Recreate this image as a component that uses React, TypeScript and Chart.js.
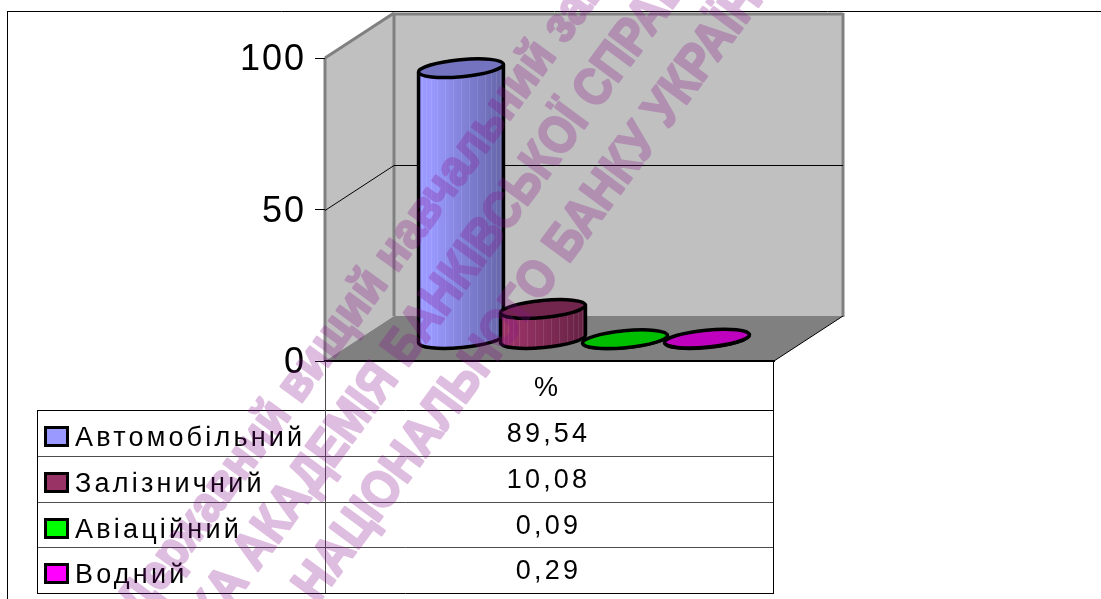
import React, { useEffect, useRef } from "react";
import { Chart, registerables } from "chart.js";

Chart.register(...registerables);

const columnLabel = "%";
const transportModes = ["Автомобільний", "Залізничний", "Авіаційний", "Водний"];
const shares = [89.54, 10.08, 0.09, 0.29];
const modeColors = ["#9999ff", "#993366", "#00ff00", "#ff00ff"];
const valueTicks = [0, 50, 100];
const stampLines = [
  "Державний вищий навчальний заклад",
  "УКРАЇНСЬКА АКАДЕМІЯ БАНКІВСЬКОЇ СПРАВИ",
  "НАЦІОНАЛЬНОГО БАНКУ УКРАЇНИ",
];

const FONT = '"Liberation Sans", Arial, sans-serif';
const DEPTH_X = 69;
const DEPTH_Y = -45;
const WALL = "#c0c0c0";
const FLOOR = "#808080";
const TILT = (-5.4 * Math.PI) / 180;
const CAP_RY = 8.5;

const shade = (hex: string, k: number) => {
  const n = parseInt(hex.slice(1), 16);
  const c = [(n >> 16) & 255, (n >> 8) & 255, n & 255].map((v) => Math.round(v * k));
  return `rgb(${c[0]},${c[1]},${c[2]})`;
};

const polygon = (ctx: CanvasRenderingContext2D, pts: number[][]) => {
  ctx.beginPath();
  pts.forEach(([x, y], i) => (i ? ctx.lineTo(x, y) : ctx.moveTo(x, y)));
  ctx.closePath();
};

const segment = (ctx: CanvasRenderingContext2D, x0: number, y0: number, x1: number, y1: number, color: string, w: number) => {
  ctx.strokeStyle = color;
  ctx.lineWidth = w;
  ctx.beginPath();
  ctx.moveTo(x0, y0);
  ctx.lineTo(x1, y1);
  ctx.stroke();
};

// The box behind the columns: side wall, back wall, floor and the raised gridlines.
const drawBox = (chart: any) => {
  const { ctx, chartArea: a, scales } = chart;
  const y = scales.y;
  const { left: l, right: r, top: t, bottom: b } = a;
  ctx.save();
  ctx.letterSpacing = "0px";
  ctx.lineJoin = "miter";
  polygon(ctx, [[l, t], [l + DEPTH_X, t + DEPTH_Y], [l + DEPTH_X, b + DEPTH_Y], [l, b]]);
  ctx.fillStyle = WALL;
  ctx.fill();
  polygon(ctx, [[l + DEPTH_X, t + DEPTH_Y], [r + DEPTH_X, t + DEPTH_Y], [r + DEPTH_X, b + DEPTH_Y], [l + DEPTH_X, b + DEPTH_Y]]);
  ctx.fill();
  polygon(ctx, [[l, b], [l + DEPTH_X, b + DEPTH_Y], [r + DEPTH_X, b + DEPTH_Y], [r, b]]);
  ctx.fillStyle = FLOOR;
  ctx.fill();

  segment(ctx, l + DEPTH_X, t + DEPTH_Y + 1, r + DEPTH_X, t + DEPTH_Y + 1, FLOOR, 3);
  segment(ctx, r + DEPTH_X, t + DEPTH_Y, r + DEPTH_X, b + DEPTH_Y + 1, FLOOR, 3);
  segment(ctx, l + DEPTH_X, t + DEPTH_Y, l + DEPTH_X, b + DEPTH_Y, FLOOR, 3);
  segment(ctx, l, t, l + DEPTH_X, t + DEPTH_Y, FLOOR, 3);
  segment(ctx, l, t, l, b, FLOOR, 3);

  valueTicks.forEach((v) => {
    if (v === 0 || v === 100) return;
    const py = Math.round(y.getPixelForValue(v));
    segment(ctx, l, py + 0.5, l + DEPTH_X, py + DEPTH_Y + 0.5, "#000", 1);
    segment(ctx, l + DEPTH_X, py + DEPTH_Y + 0.5, r + DEPTH_X, py + DEPTH_Y + 0.5, "#000", 1);
  });

  segment(ctx, l - 1, b, r + 1, b, "#000", 2);
  segment(ctx, r, b, r + DEPTH_X, b + DEPTH_Y, "#000", 1);
  ctx.restore();
};

// A column is a tilted ellipse swept from the base of its bar to the bar's value.
const drawCylinder = (ctx: CanvasRenderingContext2D, bar: any, color: string) => {
  const cx = bar.x + DEPTH_X / 2;
  const topY = bar.y + DEPTH_Y / 2 + 1;
  const baseY = bar.base + DEPTH_Y / 2 + 1;
  const rx = bar.width / 2;
  const ex = rx * Math.cos(TILT);
  const ey = rx * Math.sin(TILT);

  const body = () => {
    ctx.beginPath();
    ctx.moveTo(cx - ex, topY - ey);
    ctx.lineTo(cx - ex, baseY - ey);
    ctx.ellipse(cx, baseY, rx, CAP_RY, TILT, Math.PI, 0, true);
    ctx.lineTo(cx + ex, topY + ey);
    ctx.closePath();
  };

  ctx.save();
  ctx.lineWidth = 3.5;
  ctx.strokeStyle = "#000";
  ctx.lineJoin = "round";
  body();
  const g = ctx.createLinearGradient(cx - ex, 0, cx + ex, 0);
  g.addColorStop(0, color);
  g.addColorStop(0.15, color);
  g.addColorStop(1, shade(color, 0.66));
  ctx.fillStyle = g;
  ctx.fill();

  ctx.save();
  body();
  ctx.clip();
  ctx.lineWidth = 1;
  ctx.strokeStyle = "rgba(255,255,255,0.1)";
  for (let i = 1; i < 16; i++) {
    const sx = Math.round(cx - ex * Math.cos((i * Math.PI) / 16)) + 0.5;
    ctx.beginPath();
    ctx.moveTo(sx, topY - 12);
    ctx.lineTo(sx, baseY + 12);
    ctx.stroke();
  }
  ctx.restore();

  body();
  ctx.stroke();
  ctx.beginPath();
  ctx.ellipse(cx, topY, rx, CAP_RY, TILT, 0, Math.PI * 2);
  ctx.fillStyle = shade(color, 0.75);
  ctx.fill();
  ctx.stroke();
  ctx.restore();
};

// Data table under the plot with legend keys in its first column.
const drawTable = (chart: any) => {
  const { ctx, chartArea: a, data } = chart;
  const { left: l, right: r, bottom: b } = a;
  const rowTops = [410, 456, 502, 547];
  const tableBottom = 593;
  const tableLeft = 37;
  const mid = (l + r) / 2;

  ctx.save();
  ctx.fillStyle = "#000";
  ctx.textBaseline = "alphabetic";
  ctx.font = `27px ${FONT}`;
  ctx.letterSpacing = "3.2px";

  rowTops.forEach((ty, i) => {
    const ds = data.datasets[i];
    segment(ctx, tableLeft, ty + 0.5, r, ty + 0.5, i === 0 ? "#000" : "#4d4d4d", 1);
    ctx.fillStyle = "#000";
    ctx.fillRect(44, ty + 16, 25, 21);
    ctx.fillStyle = ds.backgroundColor;
    ctx.fillRect(47, ty + 19, 19, 15);
    ctx.fillStyle = "#000";
    ctx.textAlign = "left";
    ctx.fillText(ds.label, 75, ty + 36);
    ctx.textAlign = "center";
    const text = ds.data[0].toFixed(2).replace(".", ",");
    ctx.fillText(text, mid - 1, ty + 32);
  });
  ctx.textAlign = "center";
  ctx.fillText(data.labels[0], mid - 2, b + 35);

  segment(ctx, tableLeft, tableBottom + 0.5, r, tableBottom + 0.5, "#000", 1);
  segment(ctx, tableLeft + 0.5, rowTops[0], tableLeft + 0.5, tableBottom + 1, "#000", 1);
  segment(ctx, l + 0.5, b, l + 0.5, tableBottom, "#4d4d4d", 1);
  segment(ctx, r - 0.5, b, r - 0.5, tableBottom + 1, "#000", 1);

  // Outer frame of the figure.
  segment(ctx, 8, 11.5, 1101, 11.5, "#000", 1);
  segment(ctx, 7.5, 11, 7.5, 599, "#000", 1);
  ctx.restore();
};

// Diagonal ownership stamp printed over the whole figure. The heavy lettering is
// composed opaque on a layer, then laid over the chart at a single transparency.
const drawStamp = (chart: any) => {
  const { ctx, width, height } = chart;
  const angle = (-53.6 * Math.PI) / 180;
  const placements: [number, number, CanvasTextAlign, number, number][] = [
    [130, 612, "left", 868, 50],
    [698, -50, "right", 1060, 52],
    [306, 596, "left", 785, 52],
  ];
  const layer = document.createElement("canvas");
  layer.width = width;
  layer.height = height;
  const lc = layer.getContext("2d")!;
  lc.fillStyle = "rgb(135,15,140)";
  lc.strokeStyle = "rgb(135,15,140)";
  lc.lineWidth = 2.5;
  lc.lineJoin = "round";
  lc.textBaseline = "middle";
  stampLines.forEach((line, i) => {
    const [x, y, align, maxW, size] = placements[i];
    lc.save();
    lc.translate(x, y);
    lc.rotate(angle);
    lc.textAlign = align;
    lc.font = `bold ${size}px ${FONT}`;
    lc.strokeText(line, 0, 0, maxW);
    lc.fillText(line, 0, 0, maxW);
    lc.restore();
  });
  ctx.save();
  ctx.globalAlpha = 0.27;
  ctx.drawImage(layer, 0, 0);
  ctx.restore();
};

const figurePlugin = {
  id: "figure",
  beforeDraw(chart: any) {
    chart.ctx.letterSpacing = "2px";
    drawBox(chart);
  },
  beforeDatasetsDraw(chart: any) {
    chart.data.datasets.forEach((ds: any, i: number) => {
      const bar = chart.getDatasetMeta(i).data[0];
      drawCylinder(chart.ctx, bar, ds.backgroundColor);
    });
    return false;
  },
  afterDraw(chart: any) {
    drawTable(chart);
    drawStamp(chart);
  },
};

export default function App() {
  const ref = useRef<HTMLCanvasElement>(null);

  useEffect(() => {
    const chart = new Chart(ref.current!, {
      type: "bar",
      data: {
        labels: [columnLabel],
        datasets: transportModes.map((label, i) => ({
          label,
          data: [shares[i]],
          backgroundColor: modeColors[i],
          categoryPercentage: 0.7305,
          barPercentage: 1.04,
        })),
      },
      options: {
        responsive: false,
        animation: false,
        layout: { padding: { top: 58, right: 327, bottom: 238, left: 0 } },
        plugins: { legend: { display: false }, tooltip: { enabled: false } },
        scales: {
          x: { display: false },
          y: {
            min: 0,
            max: 100,
            afterFit: (s: any) => {
              s.width = 325;
            },
            afterBuildTicks: (s: any) => {
              s.ticks = valueTicks.map((value) => ({ value }));
            },
            border: { display: false },
            grid: { drawOnChartArea: false, tickLength: 10, color: "#000", tickWidth: 1 },
            ticks: { color: "#000", padding: 9, labelOffset: 2.5, font: { family: FONT, size: 36 } },
          },
        },
      },
      plugins: [figurePlugin],
    } as any);
    return () => chart.destroy();
  }, []);

  return (
    <canvas
      ref={ref}
      width={1101}
      height={599}
      style={{ position: "absolute", left: 0, top: 0, display: "block" }}
    />
  );
}
